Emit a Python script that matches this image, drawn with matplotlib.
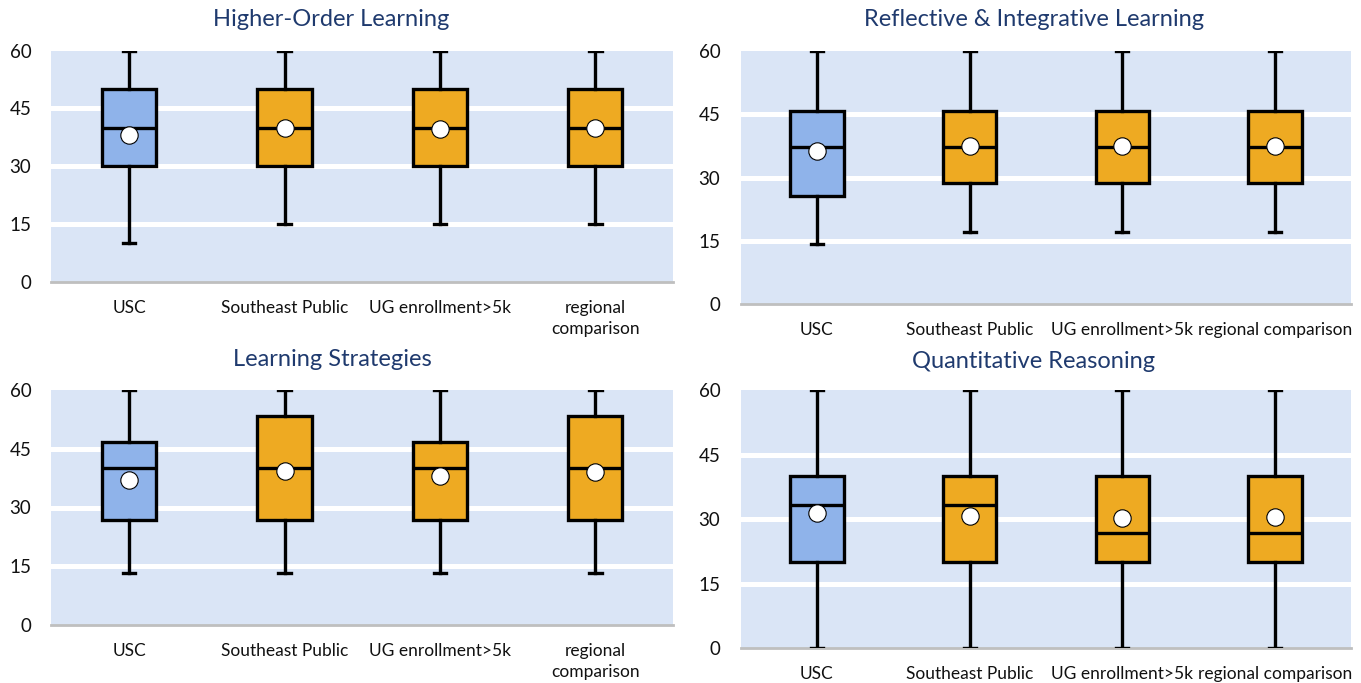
import matplotlib
matplotlib.use('Agg')
import matplotlib.pyplot as plt

plt.rcParams['font.family'] = ['Lato', 'DejaVu Sans']

W, H = 1361, 683

categories_wrapped = ["USC", "Southeast Public", "UG enrollment>5k", "regional\ncomparison"]
categories_flat = ["USC", "Southeast Public", "UG enrollment>5k", "regional comparison"]

# Higher-Order Learning
hol_whislo = [10, 15, 15, 15]
hol_q1 = [30, 30, 30, 30]
hol_med = [40, 40, 40, 40]
hol_q3 = [50, 50, 50, 50]
hol_whishi = [60, 60, 60, 60]
hol_mean = [38.1, 39.8, 39.6, 39.8]

# Reflective & Integrative Learning
ril_whislo = [14.3, 17.1, 17.1, 17.1]
ril_q1 = [25.7, 28.6, 28.6, 28.6]
ril_med = [37.1, 37.1, 37.1, 37.1]
ril_q3 = [45.7, 45.7, 45.7, 45.7]
ril_whishi = [60, 60, 60, 60]
ril_mean = [36.3, 37.4, 37.4, 37.4]

# Learning Strategies
ls_whislo = [13.3, 13.3, 13.3, 13.3]
ls_q1 = [26.7, 26.7, 26.7, 26.7]
ls_med = [40, 40, 40, 40]
ls_q3 = [46.7, 53.3, 46.7, 53.3]
ls_whishi = [60, 60, 60, 60]
ls_mean = [37.0, 39.3, 38.1, 39.1]

# Quantitative Reasoning
qr_whislo = [0, 0, 0, 0]
qr_q1 = [20, 20, 20, 20]
qr_med = [33.3, 33.3, 26.7, 26.7]
qr_q3 = [40, 40, 40, 40]
qr_whishi = [60, 60, 60, 60]
qr_mean = [31.5, 30.7, 30.2, 30.4]

box_colors = ['#8FB3EA', '#EEAA22', '#EEAA22', '#EEAA22']
bg_color = '#DAE5F6'
title_color = '#1F3A6E'

fig = plt.figure(figsize=(W / 100, H / 100), dpi=100)


def px_rect(left, right, top, bottom):
    return [left / W, 1 - bottom / H, (right - left) / W, (bottom - top) / H]


def panel(rect, title, title_xy, labels, whislo, q1, med, q3, whishi, mean):
    ax = fig.add_axes(rect)
    ax.set_facecolor(bg_color)
    stats = []
    for i in range(len(labels)):
        stats.append(dict(label=labels[i], whislo=whislo[i], q1=q1[i], med=med[i],
                          q3=q3[i], whishi=whishi[i], mean=mean[i]))
    pos = list(range(1, len(labels) + 1))
    bp = ax.bxp(stats, positions=pos, widths=0.35, capwidths=0.08,
                showmeans=True, patch_artist=True, showfliers=False,
                boxprops=dict(linewidth=2.4, edgecolor='black'),
                medianprops=dict(color='black', linewidth=2.4),
                whiskerprops=dict(color='black', linewidth=2.4),
                capprops=dict(color='black', linewidth=2.4),
                meanprops=dict(marker='o', markerfacecolor='white',
                               markeredgecolor='black', markersize=12.5,
                               markeredgewidth=0.8),
                zorder=3)
    for patch, c in zip(bp['boxes'], box_colors):
        patch.set_facecolor(c)
        patch.set_joinstyle('miter')
    for y in [15, 30, 45]:
        ax.axhline(y, color='white', linewidth=3.6, zorder=1)
    ax.set_ylim(0, 60)
    ax.set_xlim(0.5, len(labels) + 0.5)
    ax.set_yticks([0, 15, 30, 45, 60])
    ax.set_yticklabels(['0', '15', '30', '45', '60'])
    ax.set_xticks(pos)
    ax.set_xticklabels(labels, linespacing=1.4)
    ax.tick_params(axis='y', length=0, pad=14.5, labelsize=13.5, labelcolor='#111111')
    ax.tick_params(axis='x', length=0, pad=13, labelsize=12.5, labelcolor='#111111')
    for s in ['top', 'left', 'right']:
        ax.spines[s].set_visible(False)
    ax.spines['bottom'].set_color('#BFBFBF')
    ax.spines['bottom'].set_linewidth(2)
    ax.spines['bottom'].set_zorder(2)
    fig.text(title_xy[0] / W, 1 - title_xy[1] / H, title, ha='center', va='center',
             fontsize=17, color=title_color)
    return ax


panel(px_rect(51.4, 673, 50.7, 281.7), "Higher-Order Learning", (331, 20),
      categories_wrapped, hol_whislo, hol_q1, hol_med, hol_q3, hol_whishi, hol_mean)
panel(px_rect(740.6, 1351.4, 50.7, 304.3), "Reflective & Integrative Learning", (1034, 20),
      categories_flat, ril_whislo, ril_q1, ril_med, ril_q3, ril_whishi, ril_mean)
panel(px_rect(51.4, 673, 390, 625), "Learning Strategies", (332, 360),
      categories_wrapped, ls_whislo, ls_q1, ls_med, ls_q3, ls_whishi, ls_mean)
panel(px_rect(740.6, 1351.4, 390, 648.3), "Quantitative Reasoning", (1034, 362),
      categories_flat, qr_whislo, qr_q1, qr_med, qr_q3, qr_whishi, qr_mean)

fig.savefig('out.png', dpi=100, facecolor='white')
